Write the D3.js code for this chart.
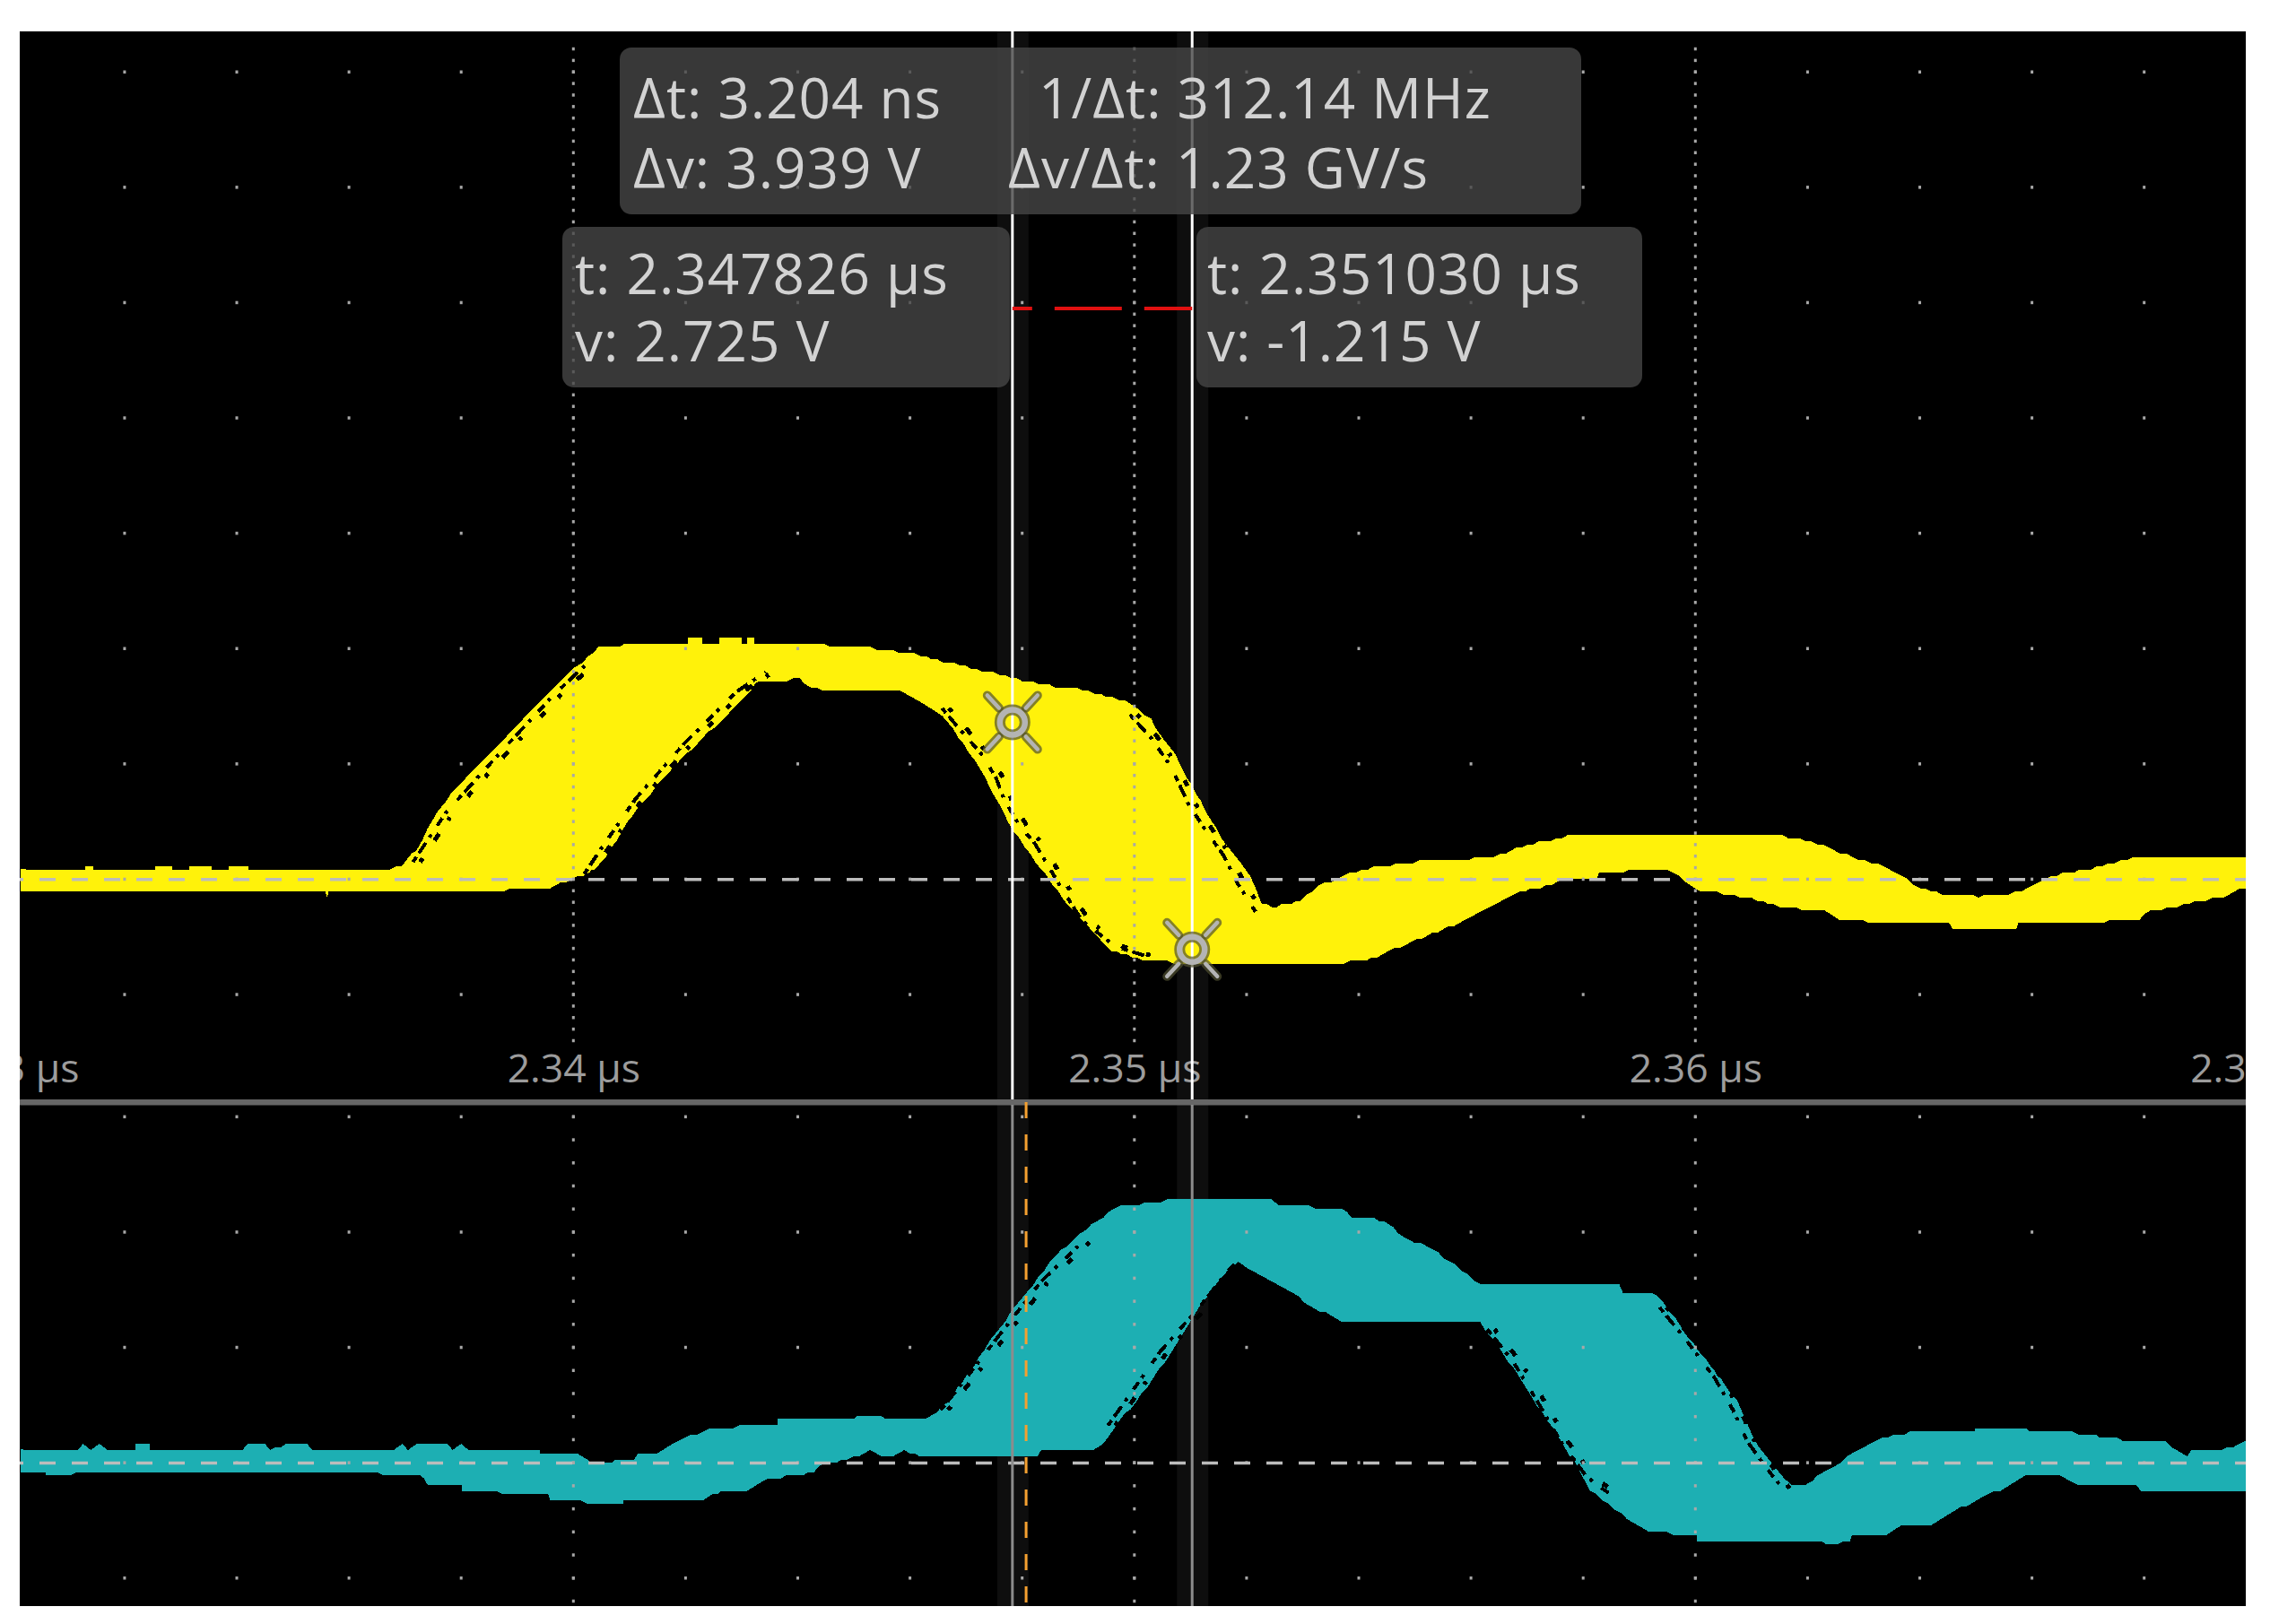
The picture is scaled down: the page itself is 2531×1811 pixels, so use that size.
<!DOCTYPE html>
<html>
<head>
<meta charset="utf-8">
<script src="https://cdn.jsdelivr.net/npm/d3@7"></script>
<style>
html, body { margin: 0; padding: 0; background: #fff; }
text { font-family: "Open Sans", sans-serif; }
</style>
</head>
<body>
<div id="scope"></div>
<script>
const ch1TopT = [-9.86,-8.7,-8.7,-8.55,-8.55,-7.45,-7.45,-7.15,-7.15,-6.85,-6.85,-6.45,-6.45,-6.15,-6.15,-5.8,-5.8,-3.26,-3.06,-2.8,-2.4,-1.87,-1.21,-0.68,-0.01,0.45,1.02,2.04,2.04,2.3,2.3,2.6,2.6,3.0,3.0,3.1,3.1,3.23,3.23,4.36,5.4,6.08,6.88,7.48,7.9,8.38,9.07,9.39,9.82,10.08,10.3,10.54,10.72,10.94,11.18,11.39,11.63,11.9,12.14,12.27,12.45,12.72,12.96,13.29,14.07,14.86,16.42,17.01,17.73,18.45,20.8,21.65,22.17,22.69,23.35,23.67,24.0,24.39,25.05,25.7,26.35,27.26,27.92,28.64,29.81];
const ch1TopV = [0.18,0.18,0.24,0.24,0.18,0.18,0.24,0.24,0.18,0.18,0.24,0.24,0.18,0.18,0.24,0.24,0.18,0.18,0.24,0.51,1.22,1.82,2.47,3.01,3.64,4.02,4.08,4.08,4.18,4.18,4.08,4.08,4.18,4.18,4.08,4.08,4.18,4.18,4.08,4.08,4.01,3.91,3.72,3.58,3.48,3.38,3.3,3.2,3.12,2.97,2.76,2.39,2.19,1.75,1.36,0.97,0.63,0.3,-0.09,-0.4,-0.48,-0.43,-0.36,-0.11,0.18,0.3,0.39,0.6,0.75,0.8,0.8,0.74,0.63,0.42,0.24,0.06,-0.14,-0.25,-0.29,-0.23,0.06,0.24,0.39,0.41,0.41];
const ch1BotT = [-9.86,-4.5,-4.42,-4.39,-4.36,-4.3,-1.34,-0.41,-0.01,0.38,0.58,1.05,1.71,2.51,3.17,3.3,4.03,4.23,5.82,6.22,6.57,7.15,7.85,8.54,8.96,9.58,10.14,11.36,13.46,14.14,14.53,15.05,15.51,15.9,16.55,16.88,17.34,17.73,18.25,18.28,19.49,19.82,20.08,21.0,21.39,22.3,22.56,23.28,24.52,24.59,25.72,25.76,27.07,27.92,28.12,28.7,29.42,29.81];
const ch1BotV = [-0.19,-0.19,-0.19,-0.3,-0.19,-0.19,-0.19,-0.13,0,0.18,0.39,1.11,1.88,2.65,3.28,3.46,3.47,3.31,3.25,3.07,2.86,2.08,0.84,-0.09,-0.61,-1.23,-1.4,-1.47,-1.47,-1.4,-1.25,-1.04,-0.86,-0.71,-0.35,-0.2,-0.11,0.02,0.02,0.12,0.18,-0.03,-0.19,-0.32,-0.45,-0.56,-0.68,-0.75,-0.75,-0.86,-0.86,-0.75,-0.75,-0.68,-0.55,-0.44,-0.29,-0.14];

const ch2TopT = [-9.86,-8.83,-8.74,-8.6,-8.45,-8.3,-7.8,-7.8,-7.55,-7.55,-5.9,-5.8,-5.5,-5.4,-5.2,-5.05,-4.75,-4.65,-3.2,-3.05,-2.95,-2.7,-2.25,-2.15,-2.0,-1.87,-0.6,-0.6,-0.04,0.25,0.32,0.68,0.76,1.08,1.16,1.5,1.77,2.44,2.96,3.64,3.64,5.0,5.06,5.48,5.55,6.28,6.48,6.75,7.15,7.61,8.07,8.6,9.13,9.76,10.3,10.68,11.53,12.44,12.57,13.0,13.22,13.68,13.88,14.27,14.53,14.79,15.31,15.84,16.16,18.64,18.71,19.23,19.43,20.08,20.74,21.13,21.58,21.71,21.97,22.5,22.8,23.54,23.93,24.98,24.98,25.89,25.95,27.14,27.2,27.92,28.38,28.77,28.84,29.49,29.81];
const ch2TopV = [0.24,0.24,0.36,0.24,0.36,0.24,0.24,0.36,0.36,0.24,0.24,0.36,0.36,0.24,0.3,0.36,0.36,0.24,0.24,0.36,0.24,0.36,0.36,0.24,0.36,0.24,0.24,0.19,0.19,0.08,0.03,0.03,0.08,0.08,0.19,0.19,0.36,0.58,0.64,0.64,0.75,0.75,0.8,0.8,0.75,0.75,0.87,1.15,1.7,2.37,2.93,3.6,4.05,4.49,4.5,4.59,4.59,4.59,4.47,4.47,4.42,4.42,4.25,4.25,4.14,3.93,3.7,3.34,3.09,3.09,2.97,2.97,2.76,1.93,1.09,0.26,-0.24,-0.38,-0.36,-0.05,0.19,0.51,0.53,0.53,0.58,0.58,0.53,0.52,0.42,0.41,0.37,0.09,0.2,0.26,0.37];
const ch2BotT = [-9.86,-9.4,-9.4,-3.72,-3.39,-2.73,-2.6,-1.98,-1.98,-1.17,-0.45,-0.41,0.45,0.89,0.89,2.31,2.57,2.64,3.1,3.37,3.7,4.1,4.29,4.49,4.89,5.29,5.6,5.9,6.35,8.27,8.34,9.27,9.53,9.76,10.02,10.55,11.07,11.46,11.85,12.01,12.83,13.22,13.68,14.14,16.16,16.56,17.08,17.47,17.86,18.12,18.78,19.17,20.02,20.02,22.24,22.43,22.76,22.79,23.41,23.67,24.2,24.65,25.11,25.44,25.89,26.48,26.81,27.85,27.94,29.81];
const ch2BotV = [-0.13,-0.13,-0.19,-0.13,-0.19,-0.19,-0.36,-0.36,-0.47,-0.52,-0.52,-0.63,-0.69,-0.69,-0.63,-0.63,-0.52,-0.47,-0.47,-0.3,-0.24,-0.19,-0.13,-0.02,0.06,0.2,0.09,0.2,0.09,0.09,0.2,0.2,0.42,0.76,1.04,1.76,2.59,3.09,3.51,3.4,2.93,2.68,2.48,2.43,2.43,1.93,1.15,0.59,-0.02,-0.47,-0.97,-1.19,-1.25,-1.36,-1.36,-1.41,-1.36,-1.25,-1.25,-1.08,-1.07,-0.83,-0.58,-0.47,-0.19,-0.19,-0.36,-0.36,-0.47,-0.47];

// black speckle runs just inside the steep edges of the persistence bands
const ch1Gaps = [
  {t: [-2.86,-2.27,-1.21,-0.35,0.25], v: [0.30,1.16,2.30,3.2,3.75]},
  {t: [0.19,0.52,1.11,1.98,2.9,3.43], v: [0.09,0.57,1.40,2.36,3.25,3.6]},
  {t: [6.57,6.89,7.26,7.53,7.69,7.95,8.22,8.7,9.07,9.66,10.24], v: [2.97,2.6,2.19,1.77,1.36,0.94,0.63,-0.15,-0.72,-1.16,-1.34]},
  {t: [9.92,10.3,10.67,10.96,11.26,11.58,11.82,12.16], v: [2.86,2.45,1.93,1.31,0.87,0.43,-0.04,-0.56]}
];
const ch2Gaps = [
  {t: [6.55,7.01,7.54,8.34,9.13], v: [0.92,1.48,2.15,3.15,3.88]},
  {t: [9.53,9.93,10.46,11.2,11.66,11.85], v: [0.65,1.2,1.93,2.75,3.32,3.51]},
  {t: [16.29,16.75,17.2,17.6,18.06,18.45], v: [2.32,1.76,1.04,0.37,-0.24,-0.52]},
  {t: [19.36,19.82,20.34,20.67,20.93,21.26,21.58], v: [2.7,2.15,1.48,0.92,0.37,-0.08,-0.47]}
];

const axisTicks = [-10, 0, 10, 20, 30];
const axisLabels = ["2.33 µs", "2.34 µs", "2.35 µs", "2.36 µs", "2.37 µs"];
const gridTimes = d3.range(-8, 30, 2);
const gridColumns = [0, 10, 20];
const upperRows = [14, 12, 10, 8, 6, 4, 2, 0, -2];
const lowerRows = [6, 4, 2, 0, -2];
const upperColumnDots = d3.range(-14, 73).map(d => d / 5);
const lowerColumnDots = d3.range(-12, 31, 2).map(d => d / 5);

const cursorTimes = [7.826, 11.03];
const cursorVolts = [2.725, -1.215];
const triggerTime = 8.07;

const deltaLines = ["Δt: 3.204 ns", "Δv: 3.939 V"];
const rateLines = ["1/Δt: 312.14 MHz", "Δv/Δt: 1.23 GV/s"];
const leftLines = ["t: 2.347826 µs", "v: 2.725 V"];
const rightLines = ["t: 2.351030 µs", "v: -1.215 V"];

const W = 2531, H = 1811;
const plot = {left: 22, right: 2504, top: 35, bottom: 1791, split: 1229};

const svg = d3.select("#scope").append("svg")
  .attr("width", W).attr("height", H)
  .style("display", "block");

svg.append("rect").attr("width", W).attr("height", H).attr("fill", "#fff");
svg.append("rect")
  .attr("x", plot.left).attr("y", plot.top)
  .attr("width", plot.right - plot.left).attr("height", plot.bottom - plot.top)
  .attr("fill", "#000");

svg.append("clipPath").attr("id", "plotClip").append("rect")
  .attr("x", plot.left).attr("y", plot.top)
  .attr("width", plot.right - plot.left).attr("height", plot.bottom - plot.top);

const x = d3.scaleLinear().domain([-10, 30]).range([13.8, 2515.8]);
const yUp = d3.scaleLinear().domain([0, 2]).range([980.7, 852.1]);
const yLow = d3.scaleLinear().domain([0, 2]).range([1631.4, 1502.8]);

const root = svg.append("g").attr("clip-path", "url(#plotClip)");

// dim bands behind the cursors
root.selectAll("rect.band").data(cursorTimes).enter().append("rect")
  .attr("class", "band")
  .attr("x", d => x(d) - 17).attr("width", 35)
  .attr("y", plot.top).attr("height", plot.bottom - plot.top)
  .attr("fill", "#0e0e0e");

// pixel staircase so the bands look like the scope raster
function pixelCurve(ctx) {
  const cellX = 7, cellY = 3.5;
  const snap = v => Math.round(v / cellY) * cellY;
  let px, py, first;
  return {
    lineStart() { first = true; },
    lineEnd() { ctx.closePath(); },
    areaStart() {}, areaEnd() {},
    point(a, b) {
      a = +a; b = +b;
      if (first) { ctx.moveTo(a, b); first = false; px = a; py = b; return; }
      const n = Math.max(1, Math.ceil(Math.abs(a - px) / cellX));
      for (let i = 1; i <= n; i++) {
        const k = i / n;
        const sx = i === n ? a : px + (a - px) * k;
        const sy = snap(py + (b - py) * k);
        ctx.lineTo(sx, sy);
      }
      px = a; py = b;
    }
  };
}

function drawBand(topT, topV, botT, botV, y, colour) {
  const pts = topT.map((t, i) => [t, topV[i]])
    .concat(botT.map((t, i) => [t, botV[i]]).reverse());
  const line = d3.line().x(d => x(d[0])).y(d => y(d[1])).curve(pixelCurve);
  root.append("path")
    .attr("d", line(pts))
    .attr("fill", colour)
    .attr("shape-rendering", "crispEdges");
}

// two broken runs per edge, the second nudged inwards, so it reads as speckle
function drawGaps(gaps, y) {
  const line = d3.line().x(d => x(d[0])).y(d => y(d[1]));
  const runs = [
    {dx: 0, dash: "7 5 14 7 4 12 10 6 4 16", w: 4},
    {dx: 8, dash: "5 24 9 18 4 31 7 22", w: 5}
  ];
  runs.forEach(r => {
    root.selectAll(null).data(gaps).enter().append("path")
      .attr("d", d => line(d.t.map((t, i) => [t, d.v[i]])))
      .attr("transform", `translate(${r.dx},0)`)
      .attr("fill", "none")
      .attr("stroke", "#000")
      .attr("stroke-width", r.w)
      .attr("stroke-dasharray", r.dash)
      .attr("shape-rendering", "crispEdges");
  });
}

drawBand(ch1TopT, ch1TopV, ch1BotT, ch1BotV, yUp, "#fff20a");
drawGaps(ch1Gaps, yUp);
drawBand(ch2TopT, ch2TopV, ch2BotT, ch2BotV, yLow, "#1dafb3");
drawGaps(ch2Gaps, yLow);

// graticule dots
function gridDots(rows, columnDots, y, cls) {
  const rowDots = d3.cross(rows, gridTimes, (v, t) => [t, v]);
  const colDots = d3.cross(gridColumns, columnDots, (t, v) => [t, v]);
  root.selectAll("rect." + cls).data(rowDots.concat(colDots)).enter().append("rect")
    .attr("class", cls)
    .attr("x", d => x(d[0]) - 1.5).attr("y", d => y(d[1]) - 2)
    .attr("width", 3).attr("height", 3.5)
    .attr("fill", "#a8a8a8");
}
gridDots(upperRows, upperColumnDots, yUp, "dotU");
gridDots(lowerRows, lowerColumnDots, yLow, "dotL");

// zero reference lines
[[yUp, 0], [yLow, 0]].forEach(([y, v]) => {
  root.append("line")
    .attr("x1", plot.left).attr("x2", plot.right)
    .attr("y1", y(v)).attr("y2", y(v))
    .attr("stroke", "#bcbcbc").attr("stroke-width", 3.5)
    .attr("stroke-dasharray", "18 18").attr("stroke-dashoffset", 14);
});

// time labels
const xAxis = d3.axisBottom(x)
  .tickValues(axisTicks)
  .tickSize(0)
  .tickFormat((d, i) => axisLabels[i]);
const axisG = root.append("g").attr("transform", "translate(0,1207)").call(xAxis);
axisG.select(".domain").remove();
axisG.selectAll("text")
  .attr("y", 0).attr("dy", 0)
  .attr("fill", "#9c9c9c")
  .style("font-size", "44.5px");

// panel divider
root.append("rect")
  .attr("x", plot.left).attr("width", plot.right - plot.left)
  .attr("y", plot.split - 3).attr("height", 6.5)
  .attr("fill", "#666");

// trigger marker
root.append("line")
  .attr("x1", x(triggerTime)).attr("x2", x(triggerTime))
  .attr("y1", plot.split).attr("y2", plot.bottom)
  .attr("stroke", "#f5a030").attr("stroke-width", 3)
  .attr("stroke-dasharray", "18 18");

// cursors
cursorTimes.forEach(t => {
  root.append("line")
    .attr("x1", x(t)).attr("x2", x(t))
    .attr("y1", plot.top).attr("y2", plot.split - 3)
    .attr("stroke", "#fff").attr("stroke-width", 3);
  root.append("line")
    .attr("x1", x(t)).attr("x2", x(t))
    .attr("y1", plot.split + 3).attr("y2", plot.bottom)
    .attr("stroke", "#8c8c8c").attr("stroke-width", 3);
});

// red dashed link between the cursor readouts
root.append("line")
  .attr("x1", x(cursorTimes[0])).attr("x2", x(cursorTimes[1]))
  .attr("y1", 344).attr("y2", 344)
  .attr("stroke", "#e01010").attr("stroke-width", 4)
  .attr("stroke-dasharray", "75 25").attr("stroke-dashoffset", 53);

// cursor handles
cursorTimes.forEach((t, i) => {
  const g = root.append("g")
    .attr("transform", `translate(${x(t)},${yUp(cursorVolts[i])})`);
  const arms = [[-1, -1], [1, -1], [-1, 1], [1, 1]];
  [["#505030", 10, 0.7], ["#b4b4b4", 4.5, 1]].forEach(([c, w, o]) => {
    g.selectAll(null).data(arms).enter().append("line")
      .attr("x1", d => d[0] * 15).attr("y1", d => d[1] * 16)
      .attr("x2", d => d[0] * 28).attr("y2", d => d[1] * 30)
      .attr("stroke", c).attr("stroke-opacity", o)
      .attr("stroke-width", w).attr("stroke-linecap", "round");
    g.append("circle").attr("r", 14)
      .attr("fill", "none").attr("stroke", c).attr("stroke-opacity", o)
      .attr("stroke-width", w + 2);
  });
});

// readout boxes
function readout(bx, by, bw, bh, rows) {
  root.append("rect")
    .attr("x", bx).attr("y", by).attr("width", bw).attr("height", bh)
    .attr("rx", 13).attr("ry", 13)
    .attr("fill", "#464646").attr("fill-opacity", 0.8);
  root.selectAll(null).data(rows).enter().append("text")
    .attr("x", d => d.x).attr("y", d => d.y)
    .attr("fill", "#d2d2d2")
    .style("font-size", "62px")
    .style("letter-spacing", "1px")
    .text(d => d.s);
}
readout(691, 53, 1072, 186, [
  {x: 706, y: 132, s: deltaLines[0]},
  {x: 706, y: 210, s: deltaLines[1]},
  {x: 1158, y: 132, s: rateLines[0]},
  {x: 1124, y: 210, s: rateLines[1]}
]);
readout(627, 253, 499, 179, [
  {x: 641, y: 328, s: leftLines[0]},
  {x: 641, y: 403, s: leftLines[1]}
]);
readout(1334, 253, 497, 179, [
  {x: 1346, y: 328, s: rightLines[0]},
  {x: 1346, y: 403, s: rightLines[1]}
]);
</script>
</body>
</html>
